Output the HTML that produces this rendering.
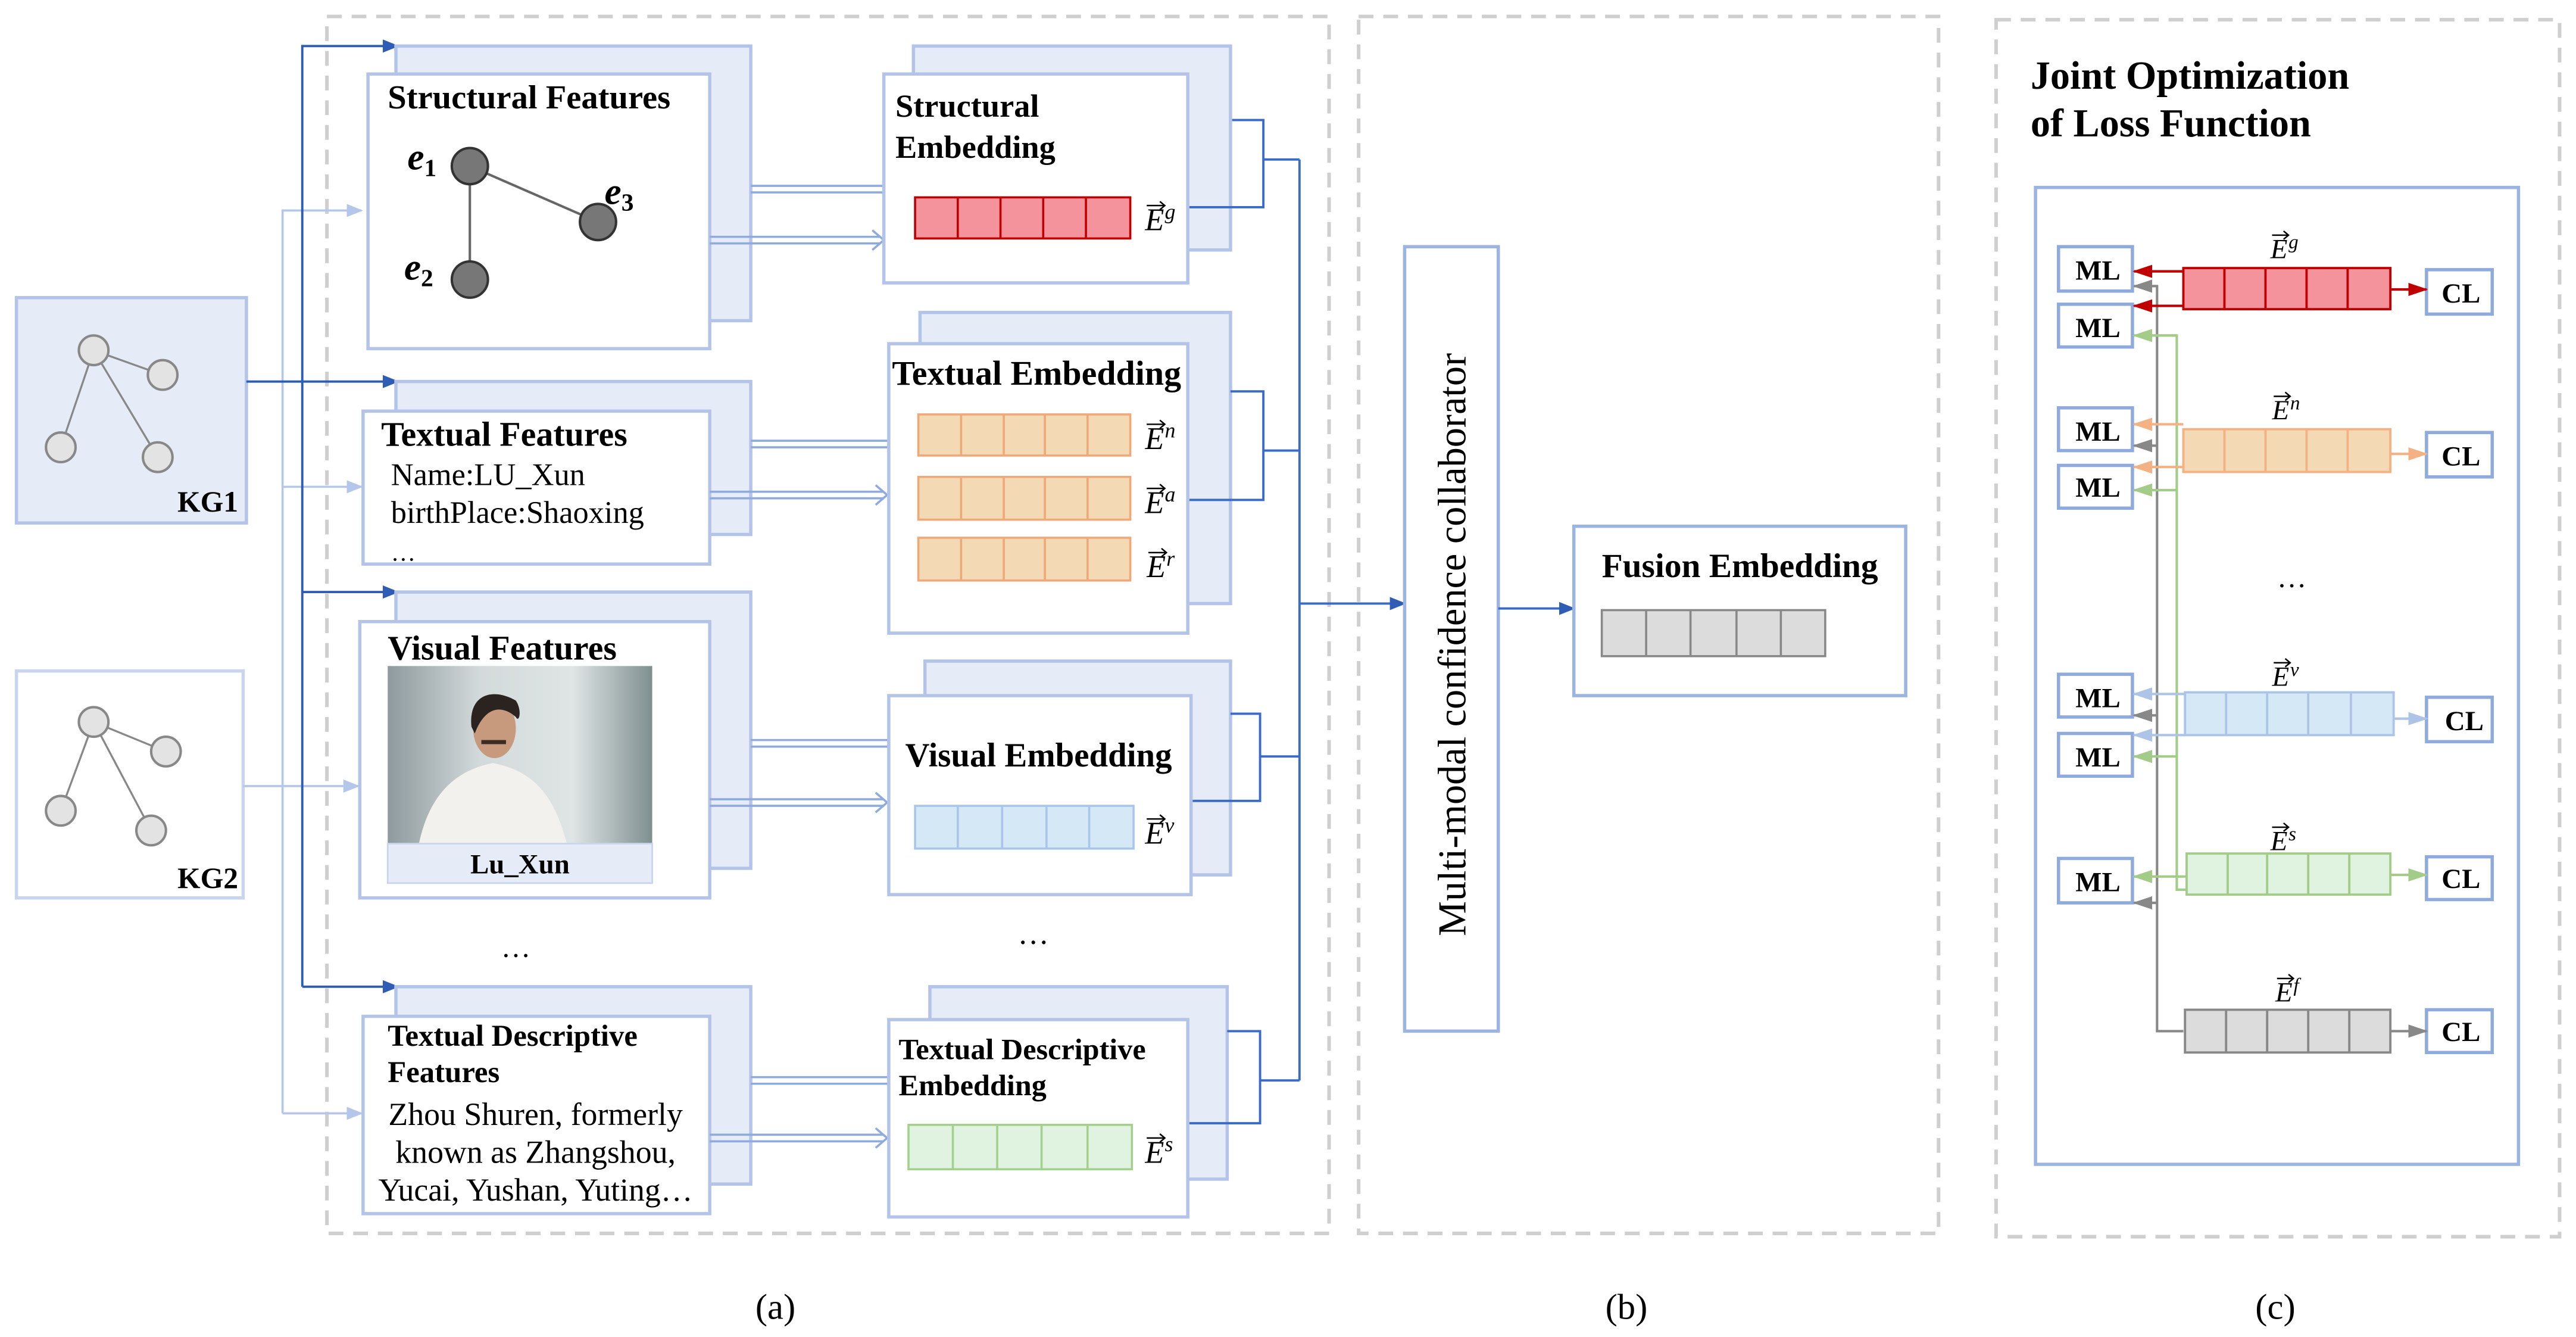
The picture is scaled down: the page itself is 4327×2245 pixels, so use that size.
<!DOCTYPE html>
<html><head><meta charset="utf-8"><style>
html,body{margin:0;padding:0;background:#fff;}
svg{display:block;}
text{font-family:"Liberation Serif",serif;fill:#000;}
.b{font-weight:bold;}
</style></head><body>
<svg width="4327" height="2245" viewBox="0 0 1568 813" preserveAspectRatio="none" xmlns="http://www.w3.org/2000/svg">
<defs>
<marker id="ad" markerWidth="10" markerHeight="8" refX="9" refY="4" orient="auto" markerUnits="userSpaceOnUse"><path d="M0,0 L10,4 L0,8 z" fill="#2f5db5"/></marker>
<marker id="al" markerWidth="10" markerHeight="8" refX="9" refY="4" orient="auto" markerUnits="userSpaceOnUse"><path d="M0,0 L10,4 L0,8 z" fill="#b4c6ea"/></marker>
<marker id="ar" markerWidth="12" markerHeight="8" refX="11" refY="4" orient="auto" markerUnits="userSpaceOnUse"><path d="M0,0 L12,4 L0,8 z" fill="#c00000"/></marker>
<marker id="ao" markerWidth="12" markerHeight="8" refX="11" refY="4" orient="auto" markerUnits="userSpaceOnUse"><path d="M0,0 L12,4 L0,8 z" fill="#f4b183"/></marker>
<marker id="ab" markerWidth="12" markerHeight="8" refX="11" refY="4" orient="auto" markerUnits="userSpaceOnUse"><path d="M0,0 L12,4 L0,8 z" fill="#aec4e6"/></marker>
<marker id="ag" markerWidth="12" markerHeight="8" refX="11" refY="4" orient="auto" markerUnits="userSpaceOnUse"><path d="M0,0 L12,4 L0,8 z" fill="#a3cc88"/></marker>
<marker id="ay" markerWidth="12" markerHeight="8" refX="11" refY="4" orient="auto" markerUnits="userSpaceOnUse"><path d="M0,0 L12,4 L0,8 z" fill="#888"/></marker>
<linearGradient id="bg" x1="0" y1="0" x2="1" y2="0"><stop offset="0" stop-color="#8e9a9e"/><stop offset="0.35" stop-color="#d3dadb"/><stop offset="0.7" stop-color="#dfe5e5"/><stop offset="1" stop-color="#7f8f90"/></linearGradient>
</defs>

<g fill="none" stroke="#cfcfcf" stroke-width="2.2" stroke-dasharray="9,6">
<rect x="199" y="10" width="610" height="740"/>
<rect x="827" y="10" width="353" height="740"/>
<rect x="1215" y="12" width="343" height="740"/>
</g>

<rect x="10" y="181" width="140" height="137" fill="#e6ebf8" stroke="#b4c4e8" stroke-width="2"/>
<g stroke="#888" stroke-width="1.2"><line x1="57" y1="213" x2="99" y2="228"/><line x1="57" y1="213" x2="37" y2="272"/><line x1="57" y1="213" x2="96" y2="278"/></g>
<g fill="#e3e3e3" stroke="#888" stroke-width="1.5"><circle cx="57" cy="213" r="9"/><circle cx="99" cy="228" r="9"/><circle cx="37" cy="272" r="9"/><circle cx="96" cy="278" r="9"/></g>
<text x="108" y="311" font-size="18" class="b">KG1</text>
<rect x="10" y="408" width="138" height="138" fill="#fff" stroke="#c9d5ee" stroke-width="2"/>
<g stroke="#888" stroke-width="1.2"><line x1="57" y1="439" x2="101" y2="457"/><line x1="57" y1="439" x2="37" y2="493"/><line x1="57" y1="439" x2="92" y2="505"/></g>
<g fill="#e3e3e3" stroke="#888" stroke-width="1.5"><circle cx="57" cy="439" r="9"/><circle cx="101" cy="457" r="9"/><circle cx="37" cy="493" r="9"/><circle cx="92" cy="505" r="9"/></g>
<text x="108" y="540" font-size="18" class="b">KG2</text>

<g fill="none" stroke="#b4c6ea" stroke-width="1.3">
<polyline points="172,677 172,128 220,128" marker-end="url(#al)"/>
<line x1="172" y1="296" x2="220" y2="296" marker-end="url(#al)"/>
<line x1="148" y1="478" x2="218" y2="478" marker-end="url(#al)"/>
<line x1="172" y1="677" x2="220" y2="677" marker-end="url(#al)"/>
</g>
<g fill="none" stroke="#2f5db5" stroke-width="1.4">
<polyline points="184,600 184,28 242,28" marker-end="url(#ad)"/>
<line x1="150" y1="232" x2="242" y2="232" marker-end="url(#ad)"/>
<line x1="184" y1="360" x2="242" y2="360" marker-end="url(#ad)"/>
<line x1="184" y1="600" x2="242" y2="600" marker-end="url(#ad)"/>
</g>

<g fill="#e6ebf8" stroke="#b4c4e8" stroke-width="2">
<rect x="241" y="28" width="216" height="167"/>
<rect x="241" y="232" width="216" height="93"/>
<rect x="241" y="360" width="216" height="168"/>
<rect x="241" y="600" width="216" height="120"/>
</g>
<g fill="#fff" stroke="#b4c4e8" stroke-width="2">
<rect x="224" y="45" width="208" height="167"/>
<rect x="221" y="250" width="211" height="93"/>
<rect x="219" y="378" width="213" height="168"/>
<rect x="221" y="618" width="211" height="120"/>
</g>
<text x="236" y="66" font-size="20.5" class="b">Structural Features</text>
<g stroke="#666" stroke-width="1.5"><line x1="286" y1="101" x2="364" y2="135"/><line x1="286" y1="101" x2="286" y2="170"/></g>
<g fill="#777" stroke="#333" stroke-width="1.5"><circle cx="286" cy="101" r="11"/><circle cx="364" cy="135" r="11"/><circle cx="286" cy="170" r="11"/></g>
<text x="248" y="103" font-size="23" class="b" font-style="italic">e<tspan font-size="15" dy="4" font-style="normal">1</tspan></text>
<text x="368" y="124" font-size="23" class="b" font-style="italic">e<tspan font-size="15" dy="4" font-style="normal">3</tspan></text>
<text x="246" y="170" font-size="23" class="b" font-style="italic">e<tspan font-size="15" dy="4" font-style="normal">2</tspan></text>

<text x="232" y="271" font-size="21" class="b">Textual Features</text>
<text x="238" y="295" font-size="19">Name:LU_Xun</text>
<text x="238" y="318" font-size="19">birthPlace:Shaoxing</text>
<text x="238" y="341" font-size="15">…</text>

<text x="236" y="401" font-size="21" class="b">Visual Features</text>
<rect x="236" y="405" width="161" height="108" fill="url(#bg)"/>
<path d="M255,513 C262,480 280,468 300,464 C320,468 336,478 345,513 Z" fill="#f3f1ee"/>
<ellipse cx="301" cy="443" rx="13" ry="18" fill="#c79a7d"/>
<path d="M287,442 C285,422 300,418 314,426 C318,432 316,440 314,436 C305,428 295,430 289,446 Z" fill="#2a2320"/>
<rect x="293" y="450" width="15" height="2.5" fill="#3b2b25"/>
<rect x="236" y="513" width="161" height="24" fill="#e6ebf8" stroke="#c9d5ee" stroke-width="1"/>
<text x="316.5" y="531" font-size="17" class="b" text-anchor="middle">Lu_Xun</text>
<text x="314" y="582" font-size="18" text-anchor="middle">…</text>

<text x="236" y="636" font-size="18.4" class="b">Textual Descriptive</text>
<text x="236" y="658" font-size="18.4" class="b">Features</text>
<text x="326" y="684" font-size="19.5" text-anchor="middle">Zhou Shuren, formerly</text>
<text x="326" y="707" font-size="19.5" text-anchor="middle">known as Zhangshou,</text>
<text x="326" y="730" font-size="19.5" text-anchor="middle">Yucai, Yushan, Yuting…</text>

<g fill="none" stroke="#8faadc" stroke-width="1.3">
<path d="M457,113 H540 M457,117 H540"/>
<path d="M432,144 H536 M432,148 H536"/><path d="M531,140 L538,146 L531,152" />
<path d="M457,268 H541 M457,272 H541"/>
<path d="M432,299 H538 M432,303 H538"/><path d="M533,295 L540,301 L533,307"/>
<path d="M457,450 H541 M457,454 H541"/>
<path d="M432,486 H538 M432,490 H538"/><path d="M533,482 L540,488 L533,494"/>
<path d="M457,655 H541 M457,659 H541"/>
<path d="M432,690 H538 M432,694 H538"/><path d="M533,686 L540,692 L533,698"/>
</g>

<g fill="#e6ebf8" stroke="#b4c4e8" stroke-width="2">
<rect x="556" y="28" width="193" height="124"/>
<rect x="560" y="190" width="189" height="177"/>
<rect x="563" y="402" width="186" height="130"/>
<rect x="566" y="600" width="181" height="117"/>
</g>
<g fill="#fff" stroke="#b4c4e8" stroke-width="2">
<rect x="538" y="45" width="185" height="127"/>
<rect x="541" y="209" width="182" height="176"/>
<rect x="541" y="423" width="184" height="121"/>
<rect x="541" y="620" width="182" height="120"/>
</g>
<text x="545" y="71" font-size="19.7" class="b">Structural</text>
<text x="545" y="96" font-size="19.7" class="b">Embedding</text>
<text x="543" y="234" font-size="21" class="b">Textual Embedding</text>
<text x="551" y="466" font-size="20.6" class="b">Visual Embedding</text>
<text x="547" y="644" font-size="18.2" class="b">Textual Descriptive</text>
<text x="547" y="666" font-size="18.2" class="b">Embedding</text>

<g stroke-width="1.3">
<g fill="#f4939c" stroke="#c00000"><rect x="557" y="120" width="131" height="25"/><path d="M583,120V145M609,120V145M635,120V145M661,120V145"/></g>
<g fill="#f3dab5" stroke="#f0a878"><rect x="559" y="252" width="129" height="25"/><path d="M585,252V277M611,252V277M636,252V277M662,252V277"/>
<rect x="559" y="290" width="129" height="26"/><path d="M585,290V316M611,290V316M636,290V316M662,290V316"/>
<rect x="559" y="327" width="129" height="26"/><path d="M585,327V353M611,327V353M636,327V353M662,327V353"/></g>
<g fill="#d5e8f6" stroke="#a9c6ea"><rect x="557" y="490" width="133" height="26"/><path d="M583,490V516M610,490V516M637,490V516M663,490V516"/></g>
<g fill="#dff3e0" stroke="#a3d08c"><rect x="553" y="684" width="136" height="27"/><path d="M580,684V711M607,684V711M634,684V711M662,684V711"/></g>
</g>

<g font-size="19">
<g transform="translate(697,140)"><text font-style="italic">E</text><path d="M1,-15h11m-3,-2.5l3,2.5l-3,2.5" stroke="#000" fill="none" stroke-width="0.9"/><text x="12" y="-7" font-size="13" font-style="italic">g</text></g>
<g transform="translate(697,273)"><text font-style="italic">E</text><path d="M1,-15h11m-3,-2.5l3,2.5l-3,2.5" stroke="#000" fill="none" stroke-width="0.9"/><text x="12" y="-7" font-size="13" font-style="italic">n</text></g>
<g transform="translate(697,312)"><text font-style="italic">E</text><path d="M1,-15h11m-3,-2.5l3,2.5l-3,2.5" stroke="#000" fill="none" stroke-width="0.9"/><text x="12" y="-7" font-size="13" font-style="italic">a</text></g>
<g transform="translate(698,351)"><text font-style="italic">E</text><path d="M1,-15h11m-3,-2.5l3,2.5l-3,2.5" stroke="#000" fill="none" stroke-width="0.9"/><text x="12" y="-7" font-size="13" font-style="italic">r</text></g>
<g transform="translate(697,513)"><text font-style="italic">E</text><path d="M1,-15h11m-3,-2.5l3,2.5l-3,2.5" stroke="#000" fill="none" stroke-width="0.9"/><text x="12" y="-7" font-size="13" font-style="italic">v</text></g>
<g transform="translate(697,707)"><text font-style="italic">E</text><path d="M1,-15h11m-3,-2.5l3,2.5l-3,2.5" stroke="#000" fill="none" stroke-width="0.9"/><text x="12" y="-7" font-size="13" font-style="italic">s</text></g>
<g transform="translate(1130,397)"><text font-style="italic">E</text><path d="M1,-15h11m-3,-2.5l3,2.5l-3,2.5" stroke="#000" fill="none" stroke-width="0.9"/><text x="12" y="-7" font-size="13" font-style="italic">f</text></g>
<text x="629" y="574" font-size="19" text-anchor="middle">…</text>
</g>

<g fill="none" stroke="#3a6bc8" stroke-width="1.4">
<polyline points="750,73 769,73 769,126 724,126"/><line x1="769" y1="97" x2="791" y2="97"/>
<polyline points="749,238 769,238 769,304 724,304"/><line x1="769" y1="274" x2="791" y2="274"/>
<polyline points="749,434 767,434 767,487 726,487"/><line x1="767" y1="460" x2="791" y2="460"/>
<polyline points="747,627 767,627 767,683 724,683"/><line x1="767" y1="657" x2="791" y2="657"/>
<line x1="791" y1="97" x2="791" y2="657"/>
</g>
<line x1="791" y1="367" x2="855" y2="367" stroke="#3a6bc8" stroke-width="1.4" marker-end="url(#ad)"/>

<rect x="855" y="150" width="57" height="477" fill="#fff" stroke="#9cb4e0" stroke-width="2"/>
<text transform="translate(892,392) rotate(-90)" font-size="24" text-anchor="middle">Multi-modal confidence collaborator</text>
<line x1="912" y1="370" x2="958" y2="370" stroke="#3a6bc8" stroke-width="1.4" marker-end="url(#ad)"/>
<rect x="958" y="320" width="202" height="103" fill="#fff" stroke="#9cb4e0" stroke-width="2"/>
<text x="975" y="351" font-size="20.8" class="b">Fusion Embedding</text>
<g fill="#dcdcdc" stroke="#888" stroke-width="1.3"><rect x="975" y="371" width="136" height="28"/><path d="M1002,371V399M1029,371V399M1057,371V399M1084,371V399"/></g>

<text x="1236" y="54" font-size="24" class="b">Joint Optimization</text>
<text x="1236" y="83" font-size="24" class="b">of Loss Function</text>
<rect x="1239" y="114" width="294" height="594" fill="#fff" stroke="#9cb4e0" stroke-width="2"/>

<g fill="#fff" stroke="#8faadc" stroke-width="2">
<rect x="1253" y="150" width="45" height="27"/><rect x="1253" y="185" width="45" height="26"/>
<rect x="1253" y="248" width="45" height="26"/><rect x="1253" y="283" width="45" height="26"/>
<rect x="1253" y="410" width="45" height="26"/><rect x="1253" y="446" width="45" height="26"/>
<rect x="1253" y="522" width="45" height="27"/>
<rect x="1477" y="164" width="40" height="27"/><rect x="1477" y="263" width="40" height="27"/>
<rect x="1477" y="424" width="40" height="27"/><rect x="1477" y="521" width="40" height="26"/>
<rect x="1477" y="614" width="40" height="26"/>
</g>
<g font-size="17" class="b" text-anchor="middle">
<text x="1277" y="170">ML</text><text x="1277" y="205">ML</text><text x="1277" y="268">ML</text><text x="1277" y="302">ML</text>
<text x="1277" y="430">ML</text><text x="1277" y="466">ML</text><text x="1277" y="542">ML</text>
<text x="1498" y="184">CL</text><text x="1498" y="283">CL</text><text x="1500" y="444">CL</text><text x="1498" y="540">CL</text><text x="1498" y="633">CL</text>
</g>

<g fill="none" stroke-width="1.5">
<polyline points="1305,174 1313,174 1313,627 1329,627" stroke="#888"/>
<g stroke="#888" marker-end="url(#ay)"><line x1="1313" y1="174" x2="1299" y2="174"/><line x1="1313" y1="271" x2="1299" y2="271"/><line x1="1313" y1="435" x2="1299" y2="435"/><line x1="1313" y1="549" x2="1299" y2="549"/></g>
<polyline points="1310,204 1325,204 1325,541 1331,541" stroke="#a3cc88"/>
<g stroke="#a3cc88" marker-end="url(#ag)"><line x1="1325" y1="204" x2="1299" y2="204"/><line x1="1325" y1="298" x2="1299" y2="298"/><line x1="1325" y1="460" x2="1299" y2="460"/><line x1="1331" y1="533" x2="1299" y2="533"/></g>
<g stroke="#c00000" marker-end="url(#ar)"><line x1="1329" y1="165" x2="1299" y2="165"/><line x1="1329" y1="186" x2="1299" y2="186"/><line x1="1455" y1="176" x2="1477" y2="176"/></g>
<g stroke="#f4b183" marker-end="url(#ao)"><line x1="1329" y1="258" x2="1299" y2="258"/><line x1="1329" y1="284" x2="1299" y2="284"/><line x1="1455" y1="276" x2="1477" y2="276"/></g>
<g stroke="#aec4e6" marker-end="url(#ab)"><line x1="1330" y1="422" x2="1299" y2="422"/><line x1="1330" y1="447" x2="1299" y2="447"/><line x1="1457" y1="437" x2="1477" y2="437"/></g>
<g stroke="#a3cc88" marker-end="url(#ag)"><line x1="1455" y1="532" x2="1477" y2="532"/></g>
<g stroke="#888" marker-end="url(#ay)"><line x1="1455" y1="627" x2="1477" y2="627"/></g>
</g>

<g stroke-width="1.4">
<g fill="#f4939c" stroke="#c00000"><rect x="1329" y="163" width="126" height="25"/><path d="M1354,163V188M1379,163V188M1404,163V188M1429,163V188"/></g>
<g fill="#f3dab5" stroke="#f4b183"><rect x="1329" y="261" width="126" height="26"/><path d="M1354,261V287M1379,261V287M1404,261V287M1429,261V287"/></g>
<g fill="#d5e8f6" stroke="#aec4e6"><rect x="1330" y="421" width="127" height="26"/><path d="M1355,421V447M1380,421V447M1405,421V447M1431,421V447"/></g>
<g fill="#dff3e0" stroke="#a3cc88"><rect x="1331" y="519" width="124" height="25"/><path d="M1356,519V544M1380,519V544M1405,519V544M1430,519V544"/></g>
<g fill="#dcdcdc" stroke="#888"><rect x="1330" y="614" width="125" height="26"/><path d="M1355,614V640M1380,614V640M1405,614V640M1430,614V640"/></g>
</g>
<g font-size="17">
<g transform="translate(1382,157)"><text font-style="italic">E</text><path d="M1,-14h10m-3,-2.5l3,2.5l-3,2.5" stroke="#000" fill="none" stroke-width="0.9"/><text x="11" y="-6" font-size="12" font-style="italic">g</text></g>
<g transform="translate(1383,255)"><text font-style="italic">E</text><path d="M1,-14h10m-3,-2.5l3,2.5l-3,2.5" stroke="#000" fill="none" stroke-width="0.9"/><text x="11" y="-6" font-size="12" font-style="italic">n</text></g>
<g transform="translate(1383,417)"><text font-style="italic">E</text><path d="M1,-14h10m-3,-2.5l3,2.5l-3,2.5" stroke="#000" fill="none" stroke-width="0.9"/><text x="11" y="-6" font-size="12" font-style="italic">v</text></g>
<g transform="translate(1382,517)"><text font-style="italic">E</text><path d="M1,-14h10m-3,-2.5l3,2.5l-3,2.5" stroke="#000" fill="none" stroke-width="0.9"/><text x="11" y="-6" font-size="12" font-style="italic">s</text></g>
<g transform="translate(1385,609)"><text font-style="italic">E</text><path d="M1,-14h10m-3,-2.5l3,2.5l-3,2.5" stroke="#000" fill="none" stroke-width="0.9"/><text x="11" y="-6" font-size="12" font-style="italic">f</text></g>
<text x="1395" y="357" font-size="18" text-anchor="middle">…</text>
</g>

<g font-size="22" text-anchor="middle">
<text x="472" y="802">(a)</text>
<text x="990" y="802">(b)</text>
<text x="1385" y="802">(c)</text>
</g>
</svg>
</body></html>
